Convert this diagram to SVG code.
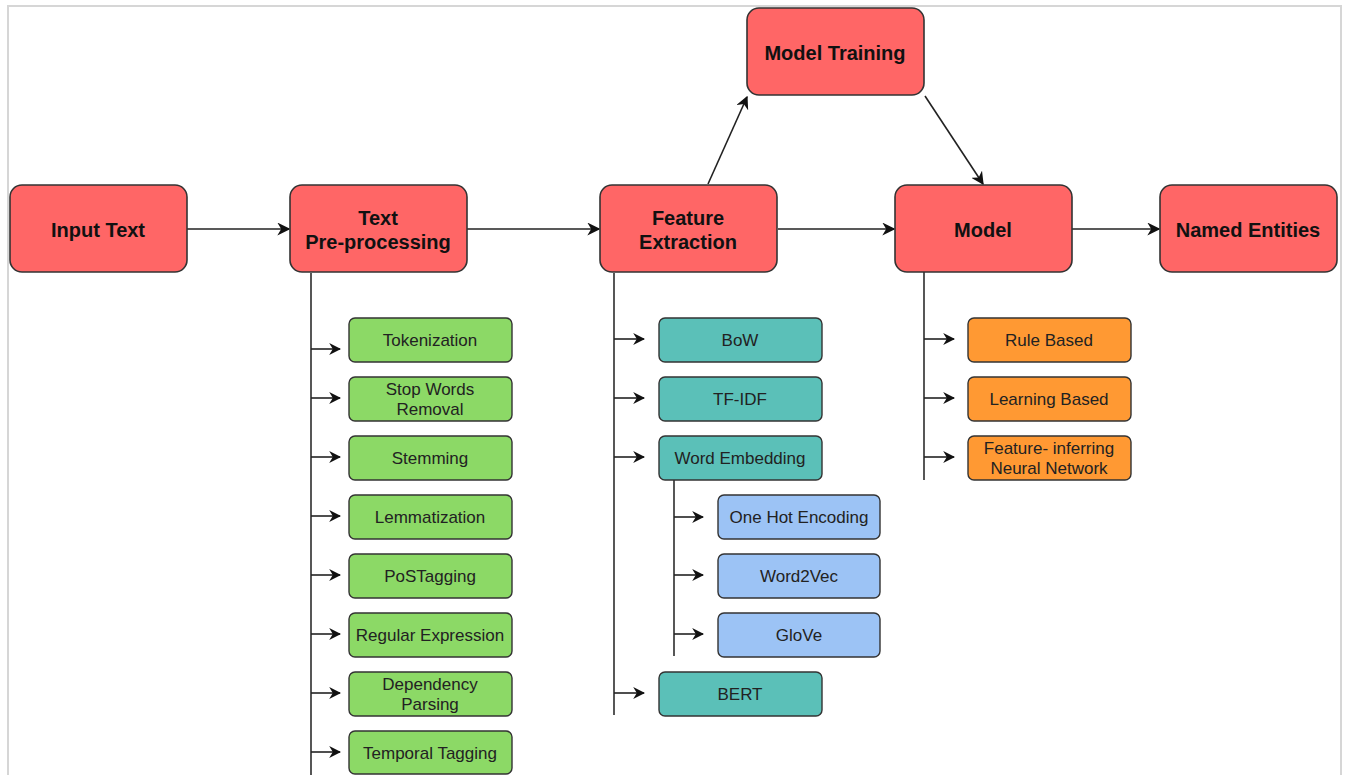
<svg xmlns="http://www.w3.org/2000/svg" width="1346" height="775" viewBox="0 0 1346 775">
  <style>
    .main rect { fill: #ff6666; stroke: #333333; stroke-width: 1.6; }
    .main text { font-family: "Liberation Sans", Arial, sans-serif; font-weight: bold; font-size: 20px; fill: #111111; text-anchor: middle; }
    .sub rect { stroke: #333333; stroke-width: 1.4; }
    .sub text { font-family: "Liberation Sans", Arial, sans-serif; font-size: 17px; fill: #222222; text-anchor: middle; }
    .green rect { fill: #8cd966; }
    .teal rect { fill: #5bc0b8; }
    .blue rect { fill: #9cc3f5; }
    .orange rect { fill: #ff9933; }
    .link { fill: none; stroke: #222222; stroke-width: 1.6; }
    .trunk { fill: none; stroke: #444444; stroke-width: 1.8; }
  </style>
  <defs>
    <marker id="arr" viewBox="0 0 10 10" refX="9" refY="5" markerWidth="12" markerHeight="12" markerUnits="userSpaceOnUse" orient="auto">
      <path d="M0,0 L10,5 L0,10 L3,5 z" fill="#111111"/>
    </marker>
    <marker id="arrBig" viewBox="0 0 10 10" refX="9" refY="5" markerWidth="13" markerHeight="13" markerUnits="userSpaceOnUse" orient="auto">
      <path d="M0,0 L10,5 L0,10 L3,5 z" fill="#111111"/>
    </marker>
  </defs>

  <rect width="1346" height="775" fill="#ffffff"/>
  <!-- outer frame -->
  <path d="M8,780 L8,6 L1341,6 L1341,780" fill="none" stroke="#d6d6d6" stroke-width="2"/>

  <!-- connectors -->
  <g id="connectors">
    <line class="link" x1="187" y1="229" x2="289" y2="229" marker-end="url(#arrBig)"/>
    <line class="link" x1="467" y1="229" x2="599" y2="229" marker-end="url(#arrBig)"/>
    <line class="link" x1="778" y1="229" x2="894" y2="229" marker-end="url(#arrBig)"/>
    <line class="link" x1="1072" y1="229" x2="1159" y2="229" marker-end="url(#arrBig)"/>
    <line class="link" x1="708" y1="184" x2="747" y2="97" marker-end="url(#arrBig)"/>
    <line class="link" x1="925" y1="96" x2="983" y2="184" marker-end="url(#arrBig)"/>

    <!-- pre-processing branch -->
    <line class="trunk" x1="311" y1="273" x2="311" y2="775"/>
    <g class="link">
      <line x1="311" y1="349" x2="340" y2="349" marker-end="url(#arr)"/>
      <line x1="311" y1="398" x2="340" y2="398" marker-end="url(#arr)"/>
      <line x1="311" y1="457" x2="340" y2="457" marker-end="url(#arr)"/>
      <line x1="311" y1="516" x2="340" y2="516" marker-end="url(#arr)"/>
      <line x1="311" y1="575" x2="340" y2="575" marker-end="url(#arr)"/>
      <line x1="311" y1="634" x2="340" y2="634" marker-end="url(#arr)"/>
      <line x1="311" y1="693" x2="340" y2="693" marker-end="url(#arr)"/>
      <line x1="311" y1="752" x2="340" y2="752" marker-end="url(#arr)"/>
    </g>

    <!-- feature extraction branch -->
    <line class="trunk" x1="614" y1="273" x2="614" y2="715"/>
    <g class="link">
      <line x1="614" y1="339" x2="644" y2="339" marker-end="url(#arr)"/>
      <line x1="614" y1="398" x2="644" y2="398" marker-end="url(#arr)"/>
      <line x1="614" y1="457" x2="644" y2="457" marker-end="url(#arr)"/>
      <line x1="614" y1="693" x2="644" y2="693" marker-end="url(#arr)"/>
    </g>
    <line class="trunk" x1="674" y1="480" x2="674" y2="656"/>
    <g class="link">
      <line x1="674" y1="517" x2="703" y2="517" marker-end="url(#arr)"/>
      <line x1="674" y1="575" x2="703" y2="575" marker-end="url(#arr)"/>
      <line x1="674" y1="634" x2="703" y2="634" marker-end="url(#arr)"/>
    </g>

    <!-- model branch -->
    <line class="trunk" x1="924" y1="272" x2="924" y2="480"/>
    <g class="link">
      <line x1="924" y1="339" x2="954" y2="339" marker-end="url(#arr)"/>
      <line x1="924" y1="398" x2="954" y2="398" marker-end="url(#arr)"/>
      <line x1="924" y1="457" x2="954" y2="457" marker-end="url(#arr)"/>
    </g>
  </g>

  <!-- main pipeline -->
  <g id="input-text" class="main">
    <rect x="10" y="185" width="177" height="87" rx="12"/>
    <text x="98" y="237">Input Text</text>
  </g>
  <g id="text-preprocessing" class="main">
    <rect x="290" y="185" width="177" height="87" rx="12"/>
    <text x="378" y="225">Text</text>
    <text x="378" y="249">Pre-processing</text>
  </g>
  <g id="feature-extraction" class="main">
    <rect x="600" y="185" width="177" height="87" rx="12"/>
    <text x="688" y="225">Feature</text>
    <text x="688" y="249">Extraction</text>
  </g>
  <g id="model" class="main">
    <rect x="895" y="185" width="177" height="87" rx="12"/>
    <text x="983" y="237">Model</text>
  </g>
  <g id="named-entities" class="main">
    <rect x="1160" y="185" width="177" height="87" rx="12"/>
    <text x="1248" y="237">Named Entities</text>
  </g>
  <g id="model-training" class="main">
    <rect x="747" y="8" width="177" height="87" rx="12"/>
    <text x="835" y="60">Model Training</text>
  </g>

  <!-- pre-processing steps -->
  <g id="tokenization" class="sub green">
    <rect x="349" y="318" width="163" height="44" rx="6"/>
    <text x="430" y="346">Tokenization</text>
  </g>
  <g id="stop-words-removal" class="sub green">
    <rect x="349" y="377" width="163" height="44" rx="6"/>
    <text x="430" y="395">Stop Words</text>
    <text x="430" y="415">Removal</text>
  </g>
  <g id="stemming" class="sub green">
    <rect x="349" y="436" width="163" height="44" rx="6"/>
    <text x="430" y="464">Stemming</text>
  </g>
  <g id="lemmatization" class="sub green">
    <rect x="349" y="495" width="163" height="44" rx="6"/>
    <text x="430" y="523">Lemmatization</text>
  </g>
  <g id="pos-tagging" class="sub green">
    <rect x="349" y="554" width="163" height="44" rx="6"/>
    <text x="430" y="582">PoSTagging</text>
  </g>
  <g id="regular-expression" class="sub green">
    <rect x="349" y="613" width="163" height="44" rx="6"/>
    <text x="430" y="641">Regular Expression</text>
  </g>
  <g id="dependency-parsing" class="sub green">
    <rect x="349" y="672" width="163" height="44" rx="6"/>
    <text x="430" y="690">Dependency</text>
    <text x="430" y="710">Parsing</text>
  </g>
  <g id="temporal-tagging" class="sub green">
    <rect x="349" y="731" width="163" height="43" rx="6"/>
    <text x="430" y="759">Temporal Tagging</text>
  </g>

  <!-- feature extraction methods -->
  <g id="bow" class="sub teal">
    <rect x="659" y="318" width="163" height="44" rx="6"/>
    <text x="740" y="346">BoW</text>
  </g>
  <g id="tf-idf" class="sub teal">
    <rect x="659" y="377" width="163" height="44" rx="6"/>
    <text x="740" y="405">TF-IDF</text>
  </g>
  <g id="word-embedding" class="sub teal">
    <rect x="659" y="436" width="163" height="44" rx="6"/>
    <text x="740" y="464">Word Embedding</text>
  </g>
  <g id="bert" class="sub teal">
    <rect x="659" y="672" width="163" height="44" rx="6"/>
    <text x="740" y="700">BERT</text>
  </g>

  <!-- word embedding variants -->
  <g id="one-hot-encoding" class="sub blue">
    <rect x="718" y="495" width="162" height="44" rx="6"/>
    <text x="799" y="523">One Hot Encoding</text>
  </g>
  <g id="word2vec" class="sub blue">
    <rect x="718" y="554" width="162" height="44" rx="6"/>
    <text x="799" y="582">Word2Vec</text>
  </g>
  <g id="glove" class="sub blue">
    <rect x="718" y="613" width="162" height="44" rx="6"/>
    <text x="799" y="641">GloVe</text>
  </g>

  <!-- model families -->
  <g id="rule-based" class="sub orange">
    <rect x="968" y="318" width="163" height="44" rx="6"/>
    <text x="1049" y="346">Rule Based</text>
  </g>
  <g id="learning-based" class="sub orange">
    <rect x="968" y="377" width="163" height="44" rx="6"/>
    <text x="1049" y="405">Learning Based</text>
  </g>
  <g id="feature-inferring-nn" class="sub orange">
    <rect x="968" y="436" width="163" height="44" rx="6"/>
    <text x="1049" y="454">Feature- inferring</text>
    <text x="1049" y="474">Neural Network</text>
  </g>
</svg>
